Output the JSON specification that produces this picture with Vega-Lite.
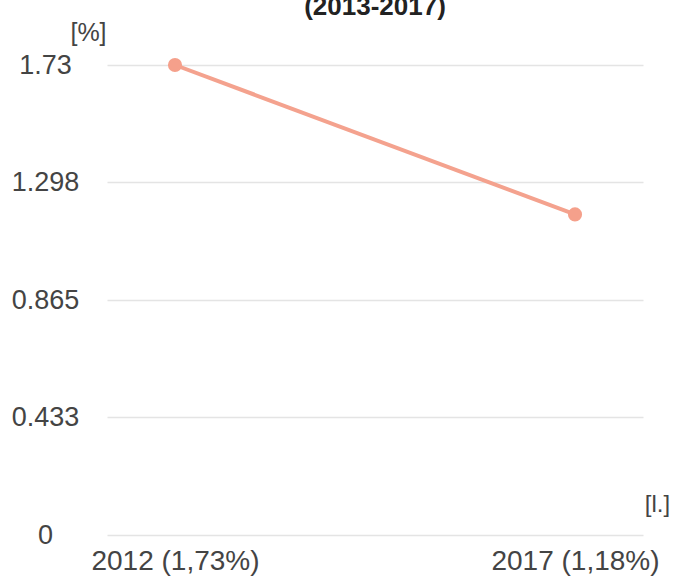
{
  "$schema": "https://vega.github.io/schema/vega-lite/v6.json",
  "autosize": "none",
  "width": 536,
  "height": 470,
  "padding": {"left": 107, "top": 65, "right": 37, "bottom": 44},
  "background": "white",
  "title": {
    "text": "(2013-2017)",
    "anchor": "middle",
    "frame": "group",
    "orient": "top",
    "font": "Liberation Sans",
    "fontSize": 26,
    "fontWeight": "bold",
    "color": "#222222",
    "offset": 0
  },
  "config": {
    "view": {"stroke": null},
    "axis": {"labelFont": "Liberation Sans", "titleFont": "Liberation Sans"}
  },
  "data": {
    "values": [
      {"year": "2012 (1,73%)", "value": 1.73},
      {"year": "2017 (1,18%)", "value": 1.18}
    ]
  },
  "encoding": {
    "x": {
      "field": "year",
      "type": "ordinal",
      "sort": null,
      "scale": {"type": "point", "padding": 0.17},
      "axis": {
        "title": "[l.]",
        "titleX": 550,
        "titleY": -31,
        "titleAlign": "center",
        "titleBaseline": "middle",
        "titleFontSize": 24,
        "titleFontWeight": "normal",
        "titleColor": "#444444",
        "labelAngle": 0,
        "labelFontSize": 28,
        "labelColor": "#444444",
        "labelPadding": 12,
        "labelBaseline": "top",
        "domain": false,
        "ticks": false,
        "tickSize": 0,
        "grid": false
      }
    },
    "y": {
      "field": "value",
      "type": "quantitative",
      "scale": {"domain": [0, 1.73], "nice": false, "zero": true},
      "axis": {
        "title": "[%]",
        "titleAngle": 0,
        "titleX": -19,
        "titleY": -33,
        "titleAlign": "center",
        "titleBaseline": "middle",
        "titleFontSize": 25,
        "titleFontWeight": "normal",
        "titleColor": "#444444",
        "values": [0, 0.433, 0.865, 1.298, 1.73],
        "format": ".4~g",
        "labelFontSize": 27,
        "labelColor": "#444444",
        "labelAlign": "center",
        "labelPadding": 62,
        "domain": false,
        "ticks": false,
        "tickSize": 0,
        "grid": true,
        "gridColor": "#e4e4e4",
        "gridWidth": 1.5
      }
    }
  },
  "layer": [
    {"mark": {"type": "line", "color": "#f4a28e", "strokeWidth": 4}},
    {"mark": {"type": "point", "filled": true, "opacity": 1, "color": "#f5a08b", "size": 200}}
  ]
}
